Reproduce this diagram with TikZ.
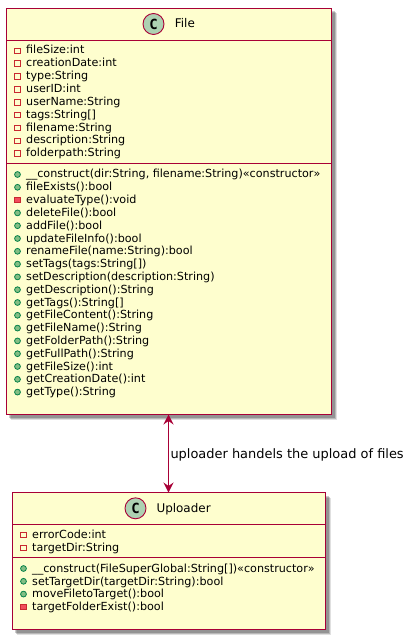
\documentclass[tikz,border=0pt]{standalone}
\usepackage{fontspec}
\setmainfont{DejaVu Sans}
\newfontfamily\iconfont{DejaVu Sans Mono}
\usetikzlibrary{arrows.meta, positioning, shadows}
\definecolor{classborder}{HTML}{A80036}
\definecolor{classfill}{HTML}{FEFECE}
\definecolor{iconfill}{HTML}{ADD1B2}
\definecolor{pubborder}{HTML}{038048}
\definecolor{pubfill}{HTML}{84BE84}
\definecolor{privborder}{HTML}{C82930}
\definecolor{privfill}{HTML}{F24D5C}
\begin{document}
\begin{tikzpicture}[
    x=1bp, y=-1bp,
    classbox/.style={rectangle, draw=classborder, fill=classfill, line width=1.3bp, inner sep=0pt, outer sep=0pt,
                     drop shadow={shadow xshift=5bp, shadow yshift=-5bp, fill=black, opacity=0.12},
                     drop shadow={shadow xshift=4bp, shadow yshift=-4bp, fill=black, opacity=0.18},
                     drop shadow={shadow xshift=3bp, shadow yshift=-3bp, fill=black, opacity=0.2}},
    sep/.style={draw=classborder, line width=1.1bp},
    title/.style={font=\fontsize{12}{12}\selectfont, inner sep=0pt, anchor=base west},
    classicon/.style={circle, minimum size=21bp, inner sep=0pt, draw=classborder, fill=iconfill, line width=0.9bp,
                      font=\iconfont\bfseries\fontsize{14}{14}\selectfont},
    row/.style={font=\fontsize{11.2}{11.2}\selectfont, inner sep=0pt, anchor=base west},
    privattr/.style={rectangle, minimum size=5.5bp, inner sep=0pt, draw=privborder, line width=0.8bp},
    privop/.style={rectangle, minimum size=5.5bp, inner sep=0pt, draw=privborder, fill=privfill, line width=0.8bp},
    pubop/.style={circle, minimum size=5.8bp, inner sep=0pt, draw=pubborder, fill=pubfill, line width=0.8bp},
    arrow/.style={{Stealth[length=10bp,width=10bp,inset=3.5bp]}-{Stealth[length=10bp,width=10bp,inset=3.5bp]},
                  draw=classborder, line width=1bp},
    label/.style={font=\fontsize{13}{13}\selectfont, inner sep=0pt, anchor=base west}
]
\useasboundingbox (0,0) rectangle (407,639);

% classes
\node[classbox, minimum width=325bp, minimum height=406bp] (file) at (169,211.5) {};
\node[classbox, minimum width=313bp, minimum height=137bp, below=78bp of file] (uploader) {};

% headers
\node[classicon] (fileicon) at ([xshift=147bp,yshift=-15.5bp]file.north west) {C};
\node[title] (filetitle) at ([xshift=21.2bp,yshift=-4bp]fileicon.center) {File};
\node[classicon] (uploadericon) at ([xshift=123bp,yshift=-15.8bp]uploader.north west) {C};
\node[title] (uploadertitle) at ([xshift=20.8bp,yshift=-4bp]uploadericon.center) {Uploader};

\draw[sep] ([yshift=-32bp]file.north west) -- ([yshift=-32bp]file.north east);
\draw[sep] ([yshift=-155bp]file.north west) -- ([yshift=-155bp]file.north east);
\draw[sep] ([yshift=-32bp]uploader.north west) -- ([yshift=-32bp]uploader.north east);
\draw[sep] ([yshift=-65bp]uploader.north west) -- ([yshift=-65bp]uploader.north east);

% File members
\foreach \i/\kind/\txt in {
    0/privattr/{fileSize:int},
    1/privattr/{creationDate:int},
    2/privattr/{type:String},
    3/privattr/{userID:int},
    4/privattr/{userName:String},
    5/privattr/{tags:String[]},
    6/privattr/{filename:String},
    7/privattr/{description:String},
    8/privattr/{folderpath:String}}
{
    \node[row] (fa\i) at (26,54+12.85*\i) {\txt};
    \node[\kind] (fai\i) at (17.5,50.8+12.85*\i) {};
}
\foreach \i/\kind/\txt in {
    0/pubop/{\_\_construct(dir:String, filename:String)«constructor»},
    1/pubop/{fileExists():bool},
    2/privop/{evaluateType():void},
    3/pubop/{deleteFile():bool},
    4/pubop/{addFile():bool},
    5/pubop/{updateFileInfo():bool},
    6/pubop/{renameFile(name:String):bool},
    7/pubop/{setTags(tags:String[])},
    8/pubop/{setDescription(description:String)},
    9/pubop/{getDescription():String},
    10/pubop/{getTags():String[]},
    11/pubop/{getFileContent():String},
    12/pubop/{getFileName():String},
    13/pubop/{getFolderPath():String},
    14/pubop/{getFullPath():String},
    15/pubop/{getFileSize():int},
    16/pubop/{getCreationDate():int},
    17/pubop/{getType():String}}
{
    \node[row] (fo\i) at (26,178+12.8*\i) {\txt};
    \node[\kind] (foi\i) at (17.5,174.5+12.8*\i) {};
}

% Uploader members
\foreach \i/\kind/\txt in {
    0/privattr/{errorCode:int},
    1/privattr/{targetDir:String}}
{
    \node[row] (ua\i) at (32,538.3+12.8*\i) {\txt};
    \node[\kind] (uai\i) at (23.5,535+12.8*\i) {};
}
\foreach \i/\kind/\txt in {
    0/pubop/{\_\_construct(FileSuperGlobal:String[])«constructor»},
    1/pubop/{setTargetDir(targetDir:String):bool},
    2/pubop/{moveFiletoTarget():bool},
    3/privop/{targetFolderExist():bool}}
{
    \node[row] (uo\i) at (32,572.3+12.8*\i) {\txt};
    \node[\kind] (uoi\i) at (23.5,568.5+12.8*\i) {};
}

\draw[arrow] ([xshift=-0.5bp]file.south) -- ([xshift=-0.5bp]uploader.north)
    node[midway, label, xshift=1.5bp, yshift=-4.5bp] {uploader handels the upload of files};

\end{tikzpicture}
\end{document}
